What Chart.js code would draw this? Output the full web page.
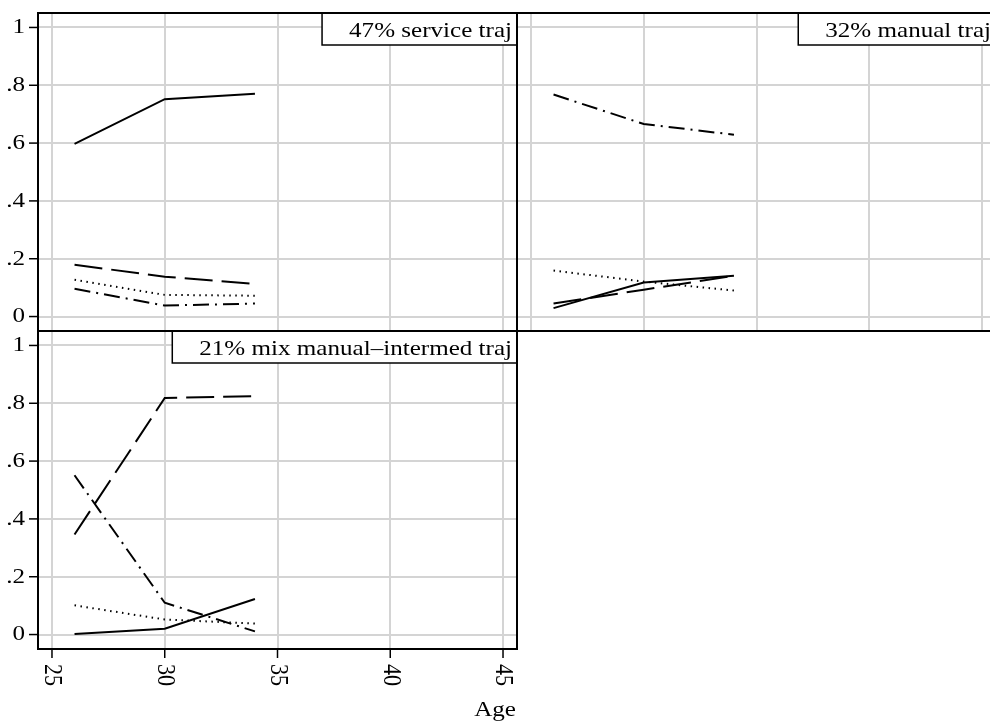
<!DOCTYPE html>
<html>
<head>
<meta charset="utf-8">
<script src="https://cdn.jsdelivr.net/npm/chart.js@4"></script>
<style>
  html, body { margin: 0; padding: 0; background: #fff; overflow: hidden; }
  #wrap { position: relative; width: 990px; height: 722px; overflow: hidden; }
  canvas { position: absolute; left: 0; top: 0; }
</style>
</head>
<body>
<div id="wrap">
  <canvas id="p1" width="1000" height="722"></canvas>
  <canvas id="p2" width="1000" height="722"></canvas>
  <canvas id="p3" width="1000" height="722"></canvas>
</div>
<script>
// data
var ages = [26, 30, 34];
var xTicks = [25, 30, 35, 40, 45];
var yTicks = [0, 0.2, 0.4, 0.6, 0.8, 1];
var yTickLabels = ['0', '.2', '.4', '.6', '.8', '1'];
var panelTitles = ['47% service traj', '32% manual traj', '21% mix manual\u2013intermed traj'];
var xTitle = 'Age';

// solid / long dash / dotted / dash-dot
var p1Service  = [0.597, 0.752, 0.771];
var p1Intermed = [0.179, 0.138, 0.113];
var p1Other    = [0.127, 0.075, 0.072];
var p1Manual   = [0.096, 0.038, 0.045];

var p2Service  = [0.029, 0.118, 0.141];
var p2Intermed = [0.045, 0.093, 0.141];
var p2Other    = [0.159, 0.121, 0.090];
var p2Manual   = [0.768, 0.666, 0.629];

var p3Service  = [0.002, 0.020, 0.123];
var p3Intermed = [0.346, 0.818, 0.825];
var p3Other    = [0.101, 0.052, 0.038];
var p3Manual   = [0.551, 0.110, 0.011];

var FONT = '22px "Liberation Serif", "Times New Roman", serif';
var K = 1.14; // text looks a little wide in the original
var GRID = '#d4d4d4';

function pts(ys) {
    return ages.map(function(a, i) { return {x: a, y: ys[i]}; });
}

function text(ctx, s, x, y, align, base, rot) {
    ctx.save();
    ctx.translate(x, y);
    ctx.scale(K, 1);
    if (rot) ctx.rotate(rot);
    ctx.textAlign = align;
    ctx.textBaseline = base;
    ctx.fillText(s, 0, 0);
    ctx.restore();
}

var decor = {
    id: 'decor',
    afterDraw: function(chart, args, opts) {
        var ctx = chart.ctx;
        var a = chart.chartArea;
        var xs = chart.scales.x, ys = chart.scales.y;
        ctx.save();
        ctx.fillStyle = '#000';
        ctx.strokeStyle = '#000';
        ctx.font = FONT;

        // title box
        var w = ctx.measureText(opts.title).width * K;
        var bx = a.right - 5 - w - 27;
        ctx.fillStyle = '#fff';
        ctx.fillRect(bx, a.top, a.right - bx, 32);
        ctx.lineWidth = 1.5;
        ctx.strokeRect(bx, a.top, a.right - bx, 32);
        ctx.fillStyle = '#000';
        text(ctx, opts.title, a.right - 5, a.top + 24, 'right', 'alphabetic');

        // y ticks
        if (opts.yLabels) {
            ctx.lineWidth = 1.5;
            yTicks.forEach(function(v, i) {
                var py = ys.getPixelForValue(v);
                ctx.beginPath();
                ctx.moveTo(a.left - 9, py);
                ctx.lineTo(a.left, py);
                ctx.stroke();
                text(ctx, yTickLabels[i], a.left - 13, py, 'right', 'middle');
            });
        }

        // x ticks
        if (opts.xLabels) {
            ctx.lineWidth = 1.5;
            xTicks.forEach(function(v) {
                var px = xs.getPixelForValue(v);
                ctx.beginPath();
                ctx.moveTo(px, a.bottom);
                ctx.lineTo(px, a.bottom + 9);
                ctx.stroke();
                text(ctx, String(v), px, a.bottom + 15, 'left', 'middle', Math.PI / 2);
            });
            text(ctx, xTitle, a.right - 1, a.bottom + 67, 'right', 'alphabetic');
        }

        // frame
        ctx.lineWidth = 2;
        ctx.strokeRect(a.left, a.top, a.right - a.left, a.bottom - a.top);
        ctx.restore();
    }
};

function makePanel(id, area, title, series, yLabels, xLabels) {
    var styles = [[], [28, 9], [1.5, 4.5], [16, 6, 2, 6]];
    var names = ['service', 'intermed', 'other', 'manual'];
    var datasets = series.map(function(s, i) {
        return {
            label: names[i],
            data: pts(s),
            borderColor: '#000',
            borderWidth: 2,
            borderDash: styles[i],
            pointRadius: 0,
            tension: 0,
            fill: false
        };
    });
    return new Chart(document.getElementById(id), {
        type: 'line',
        data: { datasets: datasets },
        options: {
            responsive: false,
            animation: false,
            devicePixelRatio: 1,
            layout: { padding: { left: area[0], top: area[1], right: 1000 - area[2], bottom: 722 - area[3] } },
            plugins: {
                legend: { display: false },
                tooltip: { enabled: false },
                decor: { title: title, yLabels: yLabels, xLabels: xLabels }
            },
            scales: {
                x: {
                    type: 'linear', min: 24.38, max: 45.62,
                    afterBuildTicks: function(s) { s.ticks = xTicks.map(function(v) { return {value: v}; }); },
                    afterFit: function(s) { s.height = 0; },
                    ticks: { display: false },
                    grid: { color: GRID, lineWidth: 2, drawTicks: false },
                    border: { display: false }
                },
                y: {
                    type: 'linear', min: -0.05, max: 1.05,
                    afterBuildTicks: function(s) { s.ticks = yTicks.map(function(v) { return {value: v}; }); },
                    afterFit: function(s) { s.width = 0; },
                    ticks: { display: false },
                    grid: { color: GRID, lineWidth: 2, drawTicks: false },
                    border: { display: false }
                }
            }
        },
        plugins: [decor]
    });
}

makePanel('p1', [38, 13, 517, 331], panelTitles[0], [p1Service, p1Intermed, p1Other, p1Manual], true, false);
makePanel('p2', [517, 13, 996, 331], panelTitles[1], [p2Service, p2Intermed, p2Other, p2Manual], false, false);
makePanel('p3', [38, 331, 517, 649], panelTitles[2], [p3Service, p3Intermed, p3Other, p3Manual], true, true);
</script>
</body>
</html>
